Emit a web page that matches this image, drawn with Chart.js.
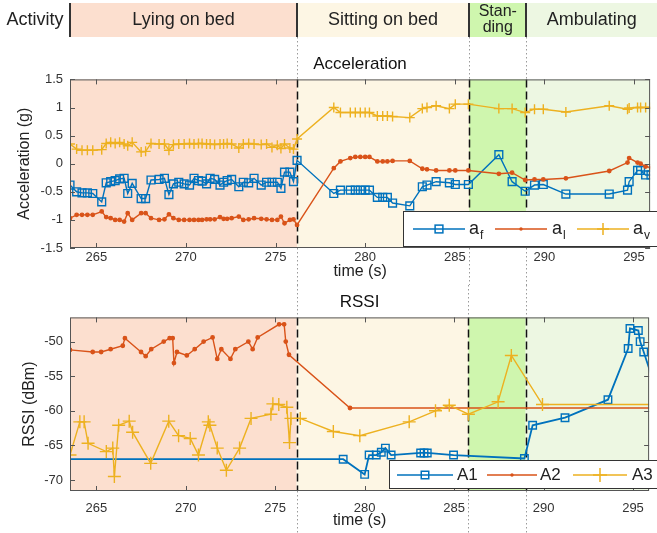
<!DOCTYPE html>
<html><head><meta charset="utf-8">
<script src="https://cdn.jsdelivr.net/npm/chart.js@4.4.1/dist/chart.umd.min.js"></script>
<style>
html,body{margin:0;padding:0;background:#fff;}
#wrap{position:relative;width:657px;height:533px;overflow:hidden;}
#c1{position:absolute;left:0;top:0;}
#c2{position:absolute;left:0;top:285px;}
</style></head><body>
<div id="wrap"><canvas id="c1" width="657" height="285"></canvas><canvas id="c2" width="657" height="248"></canvas></div>
<script>
// ---------- data ----------
const activities = ['Lying on bed', 'Sitting on bed', ['Stan-', 'ding'], 'Ambulating'];
const activityStart = [263.53, 276.2, 285.8, 289.0];
const activityEnd = [276.2, 285.8, 289.0, 297.0];
const xRange = [263.53, 295.9];
const xTicks = [265, 270, 275, 280, 285, 290, 295];
const accTicks = [-1.5, -1, -0.5, 0, 0.5, 1, 1.5];
const rssiTicks = [-70, -65, -60, -55, -50];

const accTime = [263.53,263.9,264.2,264.5,264.8,265.3,265.55,265.8,266.05,266.3,266.55,266.75,267.0,267.5,267.75,268.05,268.5,268.8,269.05,269.3,269.6,269.9,270.2,270.45,270.7,270.9,271.15,271.35,271.6,271.9,272.1,272.3,272.55,272.95,273.2,273.5,273.8,274.2,274.5,274.8,275.1,275.3,275.5,275.8,276.0,276.2,278.25,278.62,279.17,279.45,279.73,280.0,280.24,280.68,280.98,281.24,281.53,282.49,283.19,283.45,283.96,284.7,285.03,285.76,287.46,288.2,288.93,289.45,289.94,291.2,293.62,294.64,294.73,295.2,295.37,295.65,295.95];
const accF = [-0.38,-0.50,-0.52,-0.52,-0.53,-0.68,-0.34,-0.32,-0.30,-0.27,-0.26,-0.53,-0.35,-0.62,-0.62,-0.29,-0.28,-0.26,-0.55,-0.36,-0.33,-0.36,-0.38,-0.26,-0.30,-0.31,-0.36,-0.26,-0.28,-0.38,-0.33,-0.30,-0.28,-0.41,-0.33,-0.34,-0.26,-0.38,-0.33,-0.33,-0.33,-0.44,-0.15,-0.15,-0.32,0.06,-0.53,-0.47,-0.47,-0.47,-0.47,-0.47,-0.47,-0.60,-0.60,-0.60,-0.70,-0.75,-0.41,-0.38,-0.32,-0.34,-0.37,-0.37,0.16,-0.32,-0.49,-0.38,-0.37,-0.54,-0.54,-0.47,-0.32,-0.12,-0.12,-0.20,-0.20];
const accL = [-0.97,-0.91,-0.91,-0.91,-0.91,-0.85,-0.95,-0.97,-1.00,-1.00,-1.03,-0.88,-1.00,-0.88,-0.88,-0.97,-1.00,-0.99,-0.90,-0.97,-1.00,-1.00,-1.00,-1.00,-1.00,-1.00,-0.99,-0.99,-0.99,-0.95,-0.98,-0.98,-0.97,-0.94,-1.00,-0.99,-0.97,-0.98,-0.99,-1.00,-1.00,-0.94,-1.06,-1.00,-0.99,-1.09,-0.08,0.04,0.10,0.12,0.12,0.12,0.12,0.04,0.04,0.04,0.05,0.05,-0.09,-0.10,-0.12,-0.12,-0.12,-0.12,-0.18,-0.16,-0.29,-0.28,-0.28,-0.26,-0.13,0.02,0.10,0.02,0.00,-0.05,-0.07];
const accV = [0.35,0.26,0.24,0.24,0.24,0.25,0.36,0.38,0.36,0.38,0.35,0.32,0.38,0.21,0.22,0.36,0.35,0.35,0.24,0.34,0.35,0.35,0.36,0.35,0.36,0.36,0.35,0.35,0.34,0.35,0.35,0.36,0.35,0.28,0.35,0.36,0.35,0.34,0.35,0.29,0.33,0.27,0.35,0.28,0.26,0.44,1.00,0.91,0.91,0.91,0.91,0.91,0.91,0.85,0.85,0.85,0.84,0.82,0.98,1.00,1.03,0.98,1.06,1.06,0.98,0.98,0.91,0.97,0.97,0.92,1.03,0.97,0.99,1.00,1.00,1.00,1.00];

const a1Time = [263.0,278.8,280.0,280.25,280.65,280.93,281.16,281.48,283.13,283.32,283.5,284.97,288.93,289.39,291.2,293.6,294.73,294.83,295.3,295.4,295.6,296.3];
const a1 = [-67.0,-67.0,-69.2,-66.4,-66.4,-66.0,-65.4,-66.4,-66.1,-66.1,-66.1,-66.4,-66.9,-62.1,-61.0,-58.4,-51.0,-48.1,-48.4,-50.0,-51.5,-57.0];
const a2Time = [263.53,264.8,265.27,265.8,266.48,266.6,267.5,267.76,268.07,268.77,269.1,269.27,269.34,269.51,270.06,270.5,271.0,271.5,271.76,271.99,272.5,272.77,273.5,273.74,274.02,275.22,275.5,275.59,275.77,279.18,297.0];
const a2 = [-51.2,-51.5,-51.5,-51.1,-50.6,-49.5,-51.5,-52.1,-51.1,-50.0,-49.5,-49.5,-53.1,-51.5,-52.0,-51.1,-50.0,-49.4,-52.5,-51.1,-52.5,-51.1,-50.0,-51.1,-49.4,-47.5,-47.5,-50.0,-51.9,-59.6,-59.6];
const a3Time = [263.53,264.08,264.32,264.54,265.56,265.92,266.01,266.25,266.84,267.03,268.04,269.05,269.6,270.25,270.71,271.26,271.35,271.76,272.27,273.01,273.65,274.76,274.87,275.2,275.65,275.8,275.88,276.4,278.25,279.73,282.49,283.96,284.73,285.8,287.46,288.2,289.94,297.0];
const a3 = [-66.4,-61.6,-61.6,-64.7,-65.9,-65.4,-69.5,-62.1,-61.5,-63.1,-67.6,-61.5,-63.6,-64.0,-66.4,-61.6,-62.1,-65.4,-68.6,-65.4,-61.1,-60.5,-59.0,-59.1,-59.5,-64.6,-61.1,-61.1,-63.0,-63.6,-61.6,-60.0,-59.2,-60.5,-58.7,-52.0,-59.1,-59.1];

// ---------- styles ----------
const bandColors = ['#fcdfcf', '#fdf6e4', '#cff6ae', '#edf7e2'];
const BLUE = '#0072BD', RED = '#D95319', YEL = '#EDB120';
const FONT = '"Liberation Sans", Arial, Helvetica, sans-serif';
const TXT = '#333';
Chart.defaults.font.family = FONT;
Chart.defaults.color = TXT;

const pts = (t, v) => t.map((x, i) => ({x: x, y: v[i]}));

function marker(ctx, style, color, x, y, r, lw) {
  ctx.save();
  ctx.strokeStyle = color; ctx.fillStyle = color; ctx.lineWidth = lw;
  ctx.beginPath();
  if (style === 'rect') { const s = r * Math.SQRT1_2; ctx.strokeRect(x - s, y - s, 2 * s, 2 * s); }
  else if (style === 'circle') { ctx.arc(x, y, r, 0, Math.PI * 2); ctx.fill(); }
  else { ctx.moveTo(x - r, y); ctx.lineTo(x + r, y); ctx.moveTo(x, y - r); ctx.lineTo(x, y + r); ctx.stroke(); }
  ctx.restore();
}

function makeFrame(cfg) {
  return {
    id: 'frame',
    beforeDraw(chart) {
      const {ctx, chartArea: a, scales: {x}} = chart;
      ctx.save();
      for (let i = 0; i < activities.length; i++) {
        const x0 = Math.max(a.left, x.getPixelForValue(activityStart[i]));
        const x1 = Math.min(a.right, x.getPixelForValue(activityEnd[i]));
        ctx.fillStyle = bandColors[i];
        ctx.fillRect(x0, a.top, x1 - x0, a.bottom - a.top);
      }
      if (cfg.header) {
        const hT = 3, hB = 37;
        ctx.textAlign = 'center'; ctx.textBaseline = 'middle'; ctx.fillStyle = '#222';
        for (let i = 0; i < activities.length; i++) {
          const x0 = Math.max(a.left, x.getPixelForValue(activityStart[i]));
          const x1 = Math.min(chart.width, x.getPixelForValue(activityEnd[i]));
          ctx.fillStyle = bandColors[i];
          ctx.fillRect(x0, hT, x1 - x0, hB - hT);
          ctx.fillStyle = '#222';
          const cx = (x0 + x1) / 2, lab = activities[i];
          if (Array.isArray(lab)) {
            ctx.font = '16px ' + FONT;
            ctx.fillText(lab[0], cx, 12); ctx.fillText(lab[1], cx, 28);
          } else {
            ctx.font = '18px ' + FONT;
            ctx.fillText(lab, cx, 20);
          }
        }
        ctx.font = '18px ' + FONT; ctx.fillStyle = '#222';
        ctx.fillText('Activity', 35, 20);
        ctx.strokeStyle = '#333'; ctx.lineWidth = 2;
        for (let i = 0; i < activities.length; i++) {
          const xp = Math.round(Math.max(a.left, x.getPixelForValue(activityStart[i])));
          ctx.beginPath(); ctx.moveTo(xp, hT); ctx.lineTo(xp, hB); ctx.stroke();
        }
      }
      ctx.restore();
    },
    beforeDatasetsDraw(chart) {
      const {ctx, chartArea: a, scales: {x}} = chart;
      ctx.save();
      for (let i = 1; i < activities.length; i++) {
        const xp = Math.round(x.getPixelForValue(activityStart[i])) + 0.5;
        ctx.strokeStyle = '#111'; ctx.lineWidth = 1.5; ctx.setLineDash([8, 4]);
        ctx.beginPath(); ctx.moveTo(xp, a.top); ctx.lineTo(xp, a.bottom); ctx.stroke();
        ctx.strokeStyle = '#9a9a9a'; ctx.lineWidth = 1; ctx.setLineDash([1.5, 2.5]);
        ctx.beginPath(); ctx.moveTo(xp, cfg.header ? 37 : 0); ctx.lineTo(xp, a.top); ctx.stroke();
        ctx.beginPath(); ctx.moveTo(xp, a.bottom); ctx.lineTo(xp, chart.height); ctx.stroke();
      }
      ctx.restore();
    },
    afterDraw(chart) {
      const {ctx, chartArea: a, scales: {x, y}} = chart;
      ctx.save();
      ctx.strokeStyle = '#555'; ctx.lineWidth = 1;
      ctx.strokeRect(a.left + 0.5, a.top + 0.5, a.right - a.left - 1, a.bottom - a.top - 1);
      ctx.beginPath();
      x.ticks.forEach(t => {
        const p = Math.round(x.getPixelForValue(t.value)) + 0.5;
        ctx.moveTo(p, a.bottom); ctx.lineTo(p, a.bottom - 5);
        ctx.moveTo(p, a.top); ctx.lineTo(p, a.top + 5);
      });
      y.ticks.forEach(t => {
        const p = Math.round(y.getPixelForValue(t.value)) + 0.5;
        ctx.moveTo(a.left, p); ctx.lineTo(a.left + 5, p);
        ctx.moveTo(a.right, p); ctx.lineTo(a.right - 5, p);
      });
      ctx.stroke();
      // legend
      const L = cfg.legend;
      ctx.fillStyle = '#fff';
      ctx.fillRect(L.left, L.top, chart.width - L.left + 5, L.bottom - L.top);
      ctx.strokeStyle = '#333'; ctx.lineWidth = 1;
      ctx.strokeRect(L.left + 0.5, L.top + 0.5, chart.width - L.left + 5, L.bottom - L.top);
      L.items.forEach(it => {
        ctx.strokeStyle = it.color; ctx.lineWidth = 1.5;
        ctx.beginPath(); ctx.moveTo(it.x0, L.cy); ctx.lineTo(it.x1, L.cy); ctx.stroke();
        marker(ctx, it.style, it.color, (it.x0 + it.x1) / 2, L.cy, it.r, 1.5);
        ctx.fillStyle = '#222'; ctx.textAlign = 'left'; ctx.textBaseline = 'middle';
        ctx.font = L.font + 'px ' + FONT;
        ctx.fillText(it.label, it.tx, L.cy);
        if (it.sub) {
          const w = ctx.measureText(it.label).width;
          ctx.font = '12px ' + FONT;
          ctx.fillText(it.sub, it.tx + w + 1, L.cy + 7);
        }
      });
      ctx.restore();
    }
  };
}

function fixedTicks(arr) { return s => { s.ticks = arr.map(v => ({value: v})); }; }

function lineDs(data, color, style, r, order, bw) {
  return {data: data, borderColor: color, backgroundColor: color, borderWidth: bw || 1.4,
    pointStyle: style, pointRadius: r, pointBorderWidth: 1.4, pointBorderColor: color,
    pointBackgroundColor: style === 'circle' ? color : 'rgba(0,0,0,0)', tension: 0, order: order};
}

function baseOptions(o) {
  return {
    responsive: false, animation: false, events: [],
    layout: {padding: {left: 0, right: 1, top: 0, bottom: 0}},
    plugins: {
      legend: {display: false}, tooltip: {enabled: false},
      title: {display: true, text: o.title, fullSize: false, color: '#111',
        font: {size: 17, weight: 'normal'}, padding: o.titlePad}
    },
    scales: {
      x: {type: 'linear', min: xRange[0], max: xRange[1],
        afterBuildTicks: fixedTicks(xTicks),
        afterFit: s => { s.height = o.xH; },
        grid: {display: false, drawTicks: false}, border: {display: false},
        ticks: {padding: o.xPad, font: {size: 13}, color: TXT, maxRotation: 0, callback: v => String(v)},
        title: {display: true, text: 'time (s)', font: {size: 16}, color: '#222', padding: {top: 0, bottom: o.xTitlePad}}},
      y: {type: 'linear', min: o.yMin, max: o.yMax,
        afterBuildTicks: fixedTicks(o.yTicks),
        afterFit: s => { s.width = 70; },
        grid: {display: false, drawTicks: false}, border: {display: false},
        ticks: {padding: 7, font: {size: 13}, color: TXT, callback: v => String(v)},
        title: {display: true, text: o.yTitle, font: {size: 16}, color: '#222', padding: {top: o.yTitlePad, bottom: 0}}}
    }
  };
}

new Chart(document.getElementById('c1'), {
  type: 'line',
  data: {datasets: [
    lineDs(pts(accTime, accF), BLUE, 'rect', 5.5, 3),
    lineDs(pts(accTime, accL), RED, 'circle', 1.7, 2),
    lineDs(pts(accTime, accV), YEL, 'cross', 5, 1)
  ]},
  options: baseOptions({title: 'Acceleration', titlePad: {top: 54, bottom: 5}, xH: 37, xPad: 2, xTitlePad: 4,
    yMin: -1.5, yMax: 1.5, yTicks: accTicks, yTitle: 'Acceleration (g)', yTitlePad: 15}),
  plugins: [makeFrame({header: true, legend: {left: 403, top: 211, bottom: 246, cy: 229, font: 18, items: [
    {color: BLUE, style: 'rect', r: 5.5, x0: 413, x1: 465, tx: 469, label: 'a', sub: 'f'},
    {color: RED, style: 'circle', r: 1.7, x0: 495, x1: 547, tx: 552, label: 'a', sub: 'l'},
    {color: YEL, style: 'cross', r: 6, x0: 577, x1: 629, tx: 633, label: 'a', sub: 'v'}
  ]}})]
});

new Chart(document.getElementById('c2'), {
  type: 'line',
  data: {datasets: [
    lineDs(pts(a1Time, a1), BLUE, 'rect', 5.3, 3, 1.8),
    lineDs(pts(a2Time, a2), RED, 'circle', 1.7, 2),
    lineDs(pts(a3Time, a3), YEL, 'cross', 6.5, 1)
  ]},
  options: baseOptions({title: 'RSSI', titlePad: {top: 7, bottom: 5}, xH: 42, xPad: 10, xTitlePad: 3,
    yMin: -71.6, yMax: -46.5, yTicks: rssiTicks, yTitle: 'RSSI (dBm)', yTitlePad: 20}),
  plugins: [makeFrame({header: false, legend: {left: 389, top: 175, bottom: 203, cy: 190, font: 17, items: [
    {color: BLUE, style: 'rect', r: 5.3, x0: 397, x1: 453, tx: 457, label: 'A1'},
    {color: RED, style: 'circle', r: 1.7, x0: 487, x1: 537, tx: 540, label: 'A2'},
    {color: YEL, style: 'cross', r: 7, x0: 573, x1: 627, tx: 632, label: 'A3'}
  ]}})]
});
</script>
</body></html>
